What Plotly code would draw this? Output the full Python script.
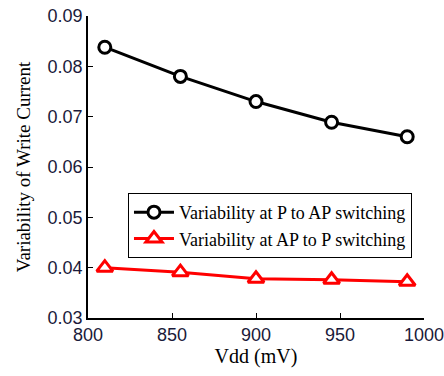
import plotly.graph_objects as go

vdd = [810, 855, 900, 945, 990]
p_to_ap = [0.0838, 0.0780, 0.0730, 0.0689, 0.0660]
ap_to_p = [0.0400, 0.0391, 0.0378, 0.0376, 0.0372]

fig = go.Figure()
fig.add_trace(go.Scatter(
    x=vdd, y=p_to_ap, mode="lines+markers",
    name="Variability at P to AP switching",
    line=dict(color="black", width=3),
    marker=dict(symbol="circle", size=12, color="white",
                line=dict(color="black", width=3)),
))
fig.add_trace(go.Scatter(
    x=vdd, y=ap_to_p, mode="lines+markers",
    name="Variability at AP to P switching",
    line=dict(color="red", width=3),
    marker=dict(symbol="triangle-up", size=14, color="white",
                line=dict(color="red", width=3)),
))

axis_common = dict(
    showgrid=False, zeroline=False, showline=True, linecolor="black",
    linewidth=1.5, ticks="inside", ticklen=5, tickcolor="black",
    tickwidth=1, ticklabeloverflow="allow", automargin=False,
    tickfont=dict(family="Liberation Sans, Arial", size=18, color="#1a1a3a"),
)

fig.update_xaxes(range=[800, 1000], tickvals=[800, 850, 900, 950, 1000],
                 title=dict(text="Vdd (mV)", font=dict(family="Liberation Serif, Times New Roman", size=20, color="black"), standoff=4),
                 **axis_common)
fig.update_yaxes(range=[0.03, 0.09], tickvals=[0.03, 0.04, 0.05, 0.06, 0.07, 0.08, 0.09],
                 ticktext=["0.03", "0.04", "0.05", "0.06", "0.07", "0.08", "0.09"],
                 title=dict(text="Variability of Write Current", font=dict(family="Liberation Serif, Times New Roman", size=19, color="black"), standoff=12),
                 **axis_common)

fig.update_layout(
    width=444, height=376,
    margin=dict(l=88, r=20, t=16, b=58),
    paper_bgcolor="white", plot_bgcolor="white",
    showlegend=True,
    legend=dict(x=0.119, y=0.414, xanchor="left", yanchor="top",
                bgcolor="white", bordercolor="black", borderwidth=1,
                font=dict(family="Liberation Serif, Times New Roman", size=18, color="black"),
                tracegroupgap=0, itemwidth=40),
)

fig.write_html("out.html")
